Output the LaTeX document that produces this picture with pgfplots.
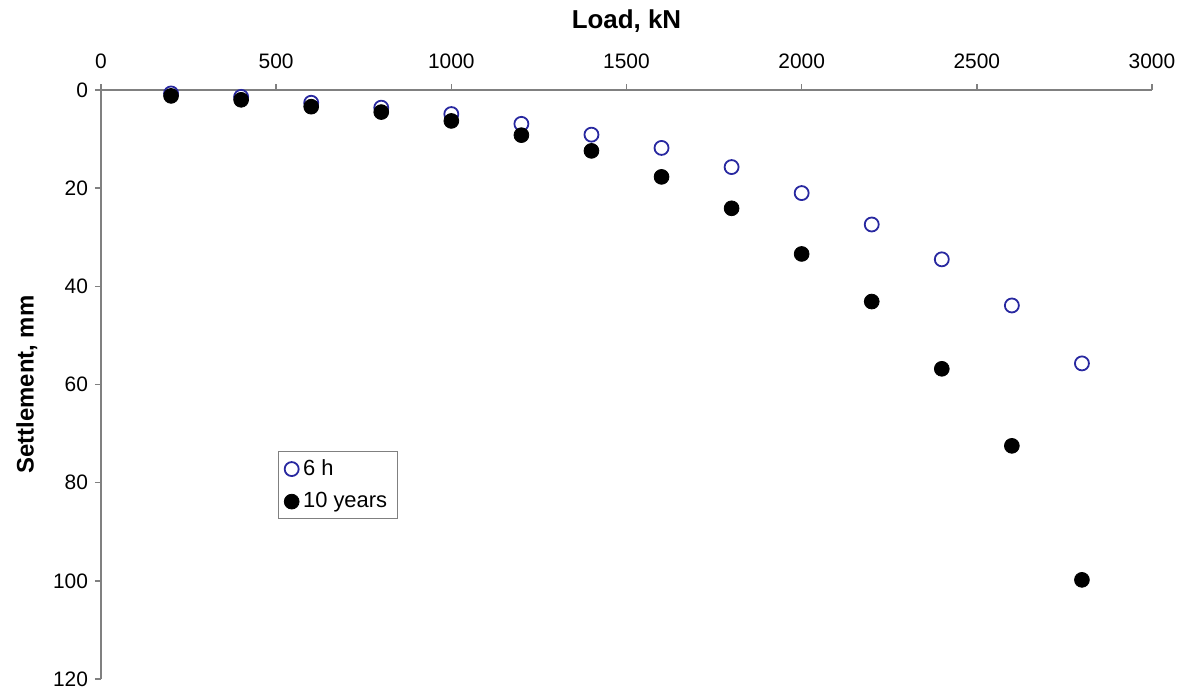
\documentclass[border=0pt]{standalone}
\usepackage{fontspec}
\setmainfont{Liberation Sans}
\usepackage{pgfplots}
\pgfplotsset{compat=1.18}
\definecolor{sixh}{RGB}{40,40,160}
\definecolor{axgray}{RGB}{128,128,128}
\begin{document}
\begin{tikzpicture}
\path[use as bounding box] (-50.5bp,-7bp) rectangle (542bp,339.5bp);
\begin{axis}[
  at={(0,0)}, anchor=south west,
  scale only axis, width=525.5bp, height=294.5bp,
  xmin=0, xmax=3000, ymin=0, ymax=120, y dir=reverse,
  axis x line*=top, axis y line*=left,
  axis line style={axgray, line width=0.8pt},
  xtick={0,500,...,3000}, ytick={0,20,...,120},
  tick align=outside, major tick length=3bp,
  tick style={axgray, line width=0.8pt},
  scaled x ticks=false,
  /pgf/number format/assume math mode=true,
  /pgf/number format/1000 sep={},
  ticklabel style={font=\fontsize{10.5}{12.5}\selectfont},
  xticklabel style={yshift=4bp},
  xlabel={Load, kN}, ylabel={Settlement, mm},
  xlabel style={font=\fontsize{13}{15}\selectfont\bfseries, yshift=4bp},
  ylabel style={font=\fontsize{12}{14}\selectfont\bfseries, yshift=1bp},
  legend style={at={(axis cs:505,73.6)}, anchor=north west, draw=axgray,
    font=\fontsize{11}{13}\selectfont, legend cell align=left, row sep=3bp},
]
\addplot[only marks, mark=o, mark size=3.5bp, sixh, mark options={line width=0.9pt}] coordinates {
  (200,0.7) (400,1.4) (600,2.6) (800,3.6) (1000,4.9) (1200,6.9) (1400,9.1)
  (1600,11.8) (1800,15.7) (2000,21.0) (2200,27.4) (2400,34.5) (2600,43.9) (2800,55.7)
};
\addlegendentry{6 h}
\addplot[only marks, mark=*, mark size=3.7bp, black] coordinates {
  (200,1.2) (400,2.0) (600,3.4) (800,4.5) (1000,6.3) (1200,9.2) (1400,12.4)
  (1600,17.7) (1800,24.1) (2000,33.4) (2200,43.1) (2400,56.8) (2600,72.5) (2800,99.8)
};
\addlegendentry{10 years}
\end{axis}
\end{tikzpicture}
\end{document}
